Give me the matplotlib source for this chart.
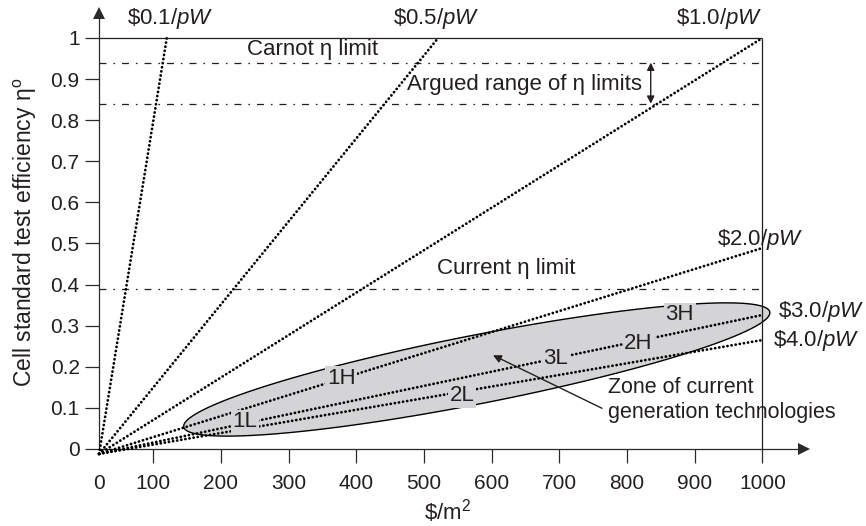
import numpy as np
import matplotlib
matplotlib.use("Agg")
import matplotlib.pyplot as plt

plt.rcParams['font.family'] = ['Liberation Sans', 'DejaVu Sans']
plt.rcParams['mathtext.fontset'] = 'custom'
plt.rcParams['mathtext.rm'] = 'Liberation Sans'
plt.rcParams['mathtext.it'] = 'Liberation Sans:italic'
plt.rcParams['lines.scale_dashes'] = False

# ---- data ----
prices = ['0.1', '0.5', '1.0', '2.0', '3.0', '4.0']          # $/pW
line_end_cost = [120, 521, 1000, 1000, 1000, 1000]           # $/m2 where line ends
line_end_eff = [1.0, 1.0, 1.0, 0.489, 0.326, 0.265]          # efficiency at end
line_start = (20, -0.012)

limit_names = ['Carnot', 'Argued upper', 'Argued lower', 'Current']
limit_values = [0.94, 0.94, 0.84, 0.39]

point_labels = ['1L', '1H', '2L', '3L', '2H', '3H']
point_cost = [235.5, 378, 556, 695, 817, 878]
point_eff = [0.066, 0.172, 0.129, 0.221, 0.257, 0.326]

zone_center = (578, 0.1934)
zone_major = (432.9, 0.1399)
zone_minor = (-9.75, 0.0819)

xtick_pos = [20, 100, 200, 300, 400, 500, 600, 700, 800, 900, 1000]
xtick_lab = ['0', '100', '200', '300', '400', '500', '600', '700', '800', '900', '1000']
ytick_pos = [0, 0.1, 0.2, 0.3, 0.4, 0.5, 0.6, 0.7, 0.8, 0.9, 1.0]
ytick_lab = ['0', '0.1', '0.2', '0.3', '0.4', '0.5', '0.6', '0.7', '0.8', '0.9', '1']

INK = '#231f20'
AX = '#2a2a2a'
ZONE = '#d4d4d6'
FS = 16
TFS = 15

fig = plt.figure(figsize=(8.66, 5.26), dpi=100)
ax = fig.add_axes([0.11443, 0.123, 0.8144, 0.8517])
xmin, xmax, ymin, ymax = 20, 1062, -0.03, 1.06
ax.set_xlim(xmin, xmax)
ax.set_ylim(ymin, ymax)

# spines
for s in ['top', 'right']:
    ax.spines[s].set_visible(False)
ax.spines['bottom'].set_position(('data', 0))
ax.spines['left'].set_bounds(0, ymax)
for s in ['bottom', 'left']:
    ax.spines[s].set_color(AX)
    ax.spines[s].set_linewidth(0.9)
ax.plot([xmax], [0], marker='>', color=AX, ms=8, clip_on=False, mew=0)
ax.plot([xmin], [ymax], marker='^', color=AX, ms=8, clip_on=False, mew=0)

ax.set_xticks(xtick_pos)
ax.set_xticklabels(xtick_lab)
ax.set_yticks(ytick_pos)
ax.set_yticklabels(ytick_lab)
ax.tick_params(axis='x', direction='out', length=10, width=0.9, color=AX,
               labelsize=TFS, pad=8, labelcolor=INK)
ax.tick_params(axis='y', direction='out', length=10, width=0.9, color=AX,
               labelsize=TFS, pad=4, labelcolor=INK)
ax.xaxis.get_major_ticks()[0].tick1line.set_visible(False)

# frame lines at eta = 1 and cost = 1000
ax.hlines(1.0, xmin, 1000, color=INK, lw=0.9, zorder=2)
ax.vlines(1000, 0, 1.0, color=INK, lw=0.9, zorder=2)

# zone ellipse
t = np.linspace(0, 2 * np.pi, 400)
ex = zone_center[0] + np.cos(t) * zone_major[0] + np.sin(t) * zone_minor[0]
ey = zone_center[1] + np.cos(t) * zone_major[1] + np.sin(t) * zone_minor[1]
ax.fill(ex, ey, facecolor=ZONE, edgecolor='black', lw=1.0, zorder=1)

# limit lines
dashdot = (0, (5, 5, 1.2, 5))
for v in sorted(set(limit_values)):
    ax.hlines(v, xmin, 1000, color=INK, lw=0.9, linestyles=[dashdot], zorder=2)

# price lines
for p, xc, ye in zip(prices, line_end_cost, line_end_eff):
    ax.plot([line_start[0], xc], [line_start[1], ye], color='black', lw=2.0,
            linestyle=(0, (0.1, 2.9)), dash_capstyle='round', clip_on=False, zorder=3)

# price labels
lab_kw = dict(fontsize=FS, color=INK, va='center')
ax.text(61, 1.048, r'\$0.1/$pW$', ha='left', **lab_kw)
ax.text(454, 1.048, r'\$0.5/$pW$', ha='left', **lab_kw)
ax.text(1001, 1.048, r'\$1.0/$pW$', ha='right', **lab_kw)
ax.text(933, 0.509, r'\$2.0/$pW$', ha='left', **lab_kw)
ax.text(1023, 0.334, r'\$3.0/$pW$', ha='left', clip_on=False, **lab_kw)
ax.text(1015, 0.265, r'\$4.0/$pW$', ha='left', clip_on=False, **lab_kw)

# limit labels
ax.text(335, 0.971, 'Carnot η limit', ha='center', **lab_kw)
ax.text(649, 0.886, 'Argued range of η limits', ha='center', **lab_kw)
ax.text(621, 0.44, 'Current η limit', ha='center', **lab_kw)
ax.annotate('', xy=(835, 0.94), xytext=(835, 0.84),
            arrowprops=dict(arrowstyle='<|-|>', color=INK, lw=1.0,
                            mutation_scale=11, shrinkA=0, shrinkB=0))

# point labels
for lab, xc, yc in zip(point_labels, point_cost, point_eff):
    ax.text(xc, yc, lab, ha='center', va='center', fontsize=FS, color=INK, zorder=4,
            bbox=dict(boxstyle='square,pad=0.08', fc=ZONE, ec='none'))

# zone annotation
ax.text(772, 0.119, 'Zone of current\ngeneration technologies', ha='left', va='center',
        fontsize=FS - 0.5, color=INK, linespacing=1.2)
ax.annotate('', xy=(602, 0.228), xytext=(763, 0.099),
            arrowprops=dict(arrowstyle='-|>', color=INK, lw=1.0,
                            mutation_scale=12, shrinkA=0, shrinkB=0), zorder=5)

# axis labels
fig.text(25 / 866, 1 - 232 / 526, r'Cell standard test efficiency η$^{\mathrm{o}}$',
         rotation=90, ha='center', va='center', fontsize=16.5, color=INK)
fig.text(447.5 / 866, 1 - 511 / 526, r'\$/m$^{2}$', ha='center', va='center',
         fontsize=FS, color=INK)

fig.savefig('out.png', dpi=100)
